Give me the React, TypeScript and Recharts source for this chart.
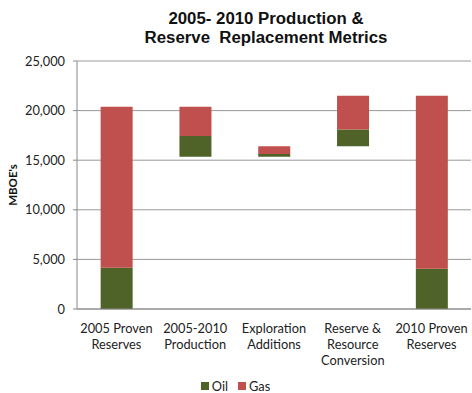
import { BarChart, Bar, XAxis, YAxis, CartesianGrid, Legend } from 'recharts';

const categories = [
  '2005 Proven\nReserves',
  '2005-2010\nProduction',
  'Exploration\nAdditions',
  'Reserve &\nResource\nConversion',
  '2010 Proven\nReserves',
];
// invisible waterfall offset, then the visible oil and gas pieces (MBOE)
const baseValues = [0, 15350, 15350, 16400, 0];
const oilValues = [4150, 2100, 270, 1700, 4050];
const gasValues = [16250, 2950, 780, 3400, 17450];
const yTicks = [0, 5000, 10000, 15000, 20000, 25000];

const OIL = '#4F6228';
const GAS = '#C0504D';
const FONT = 'Lato, "Open Sans", sans-serif';

const data = categories.map((name, i) => ({
  name,
  base: baseValues[i],
  oil: oilValues[i],
  gas: gasValues[i],
}));

const CategoryTick = ({ x, y, payload }: any) => {
  const lines = String(payload.value).split('\n');
  return (
    <text x={x} y={y} textAnchor="middle" fontFamily={FONT} fontSize={12.8} fill="#222">
      {lines.map((l, i) => (
        <tspan key={i} x={x} dy={16}>
          {l}
        </tspan>
      ))}
    </text>
  );
};

const LegendBox = () => (
  <div
    style={{
      display: 'flex',
      justifyContent: 'center',
      fontFamily: FONT,
      fontSize: 12.8,
      lineHeight: '12px',
      color: '#222',
      paddingTop: 7,
    }}
  >
    <span style={{ display: 'flex', alignItems: 'center', marginRight: 10 }}>
      <span style={{ width: 8, height: 8, background: OIL, marginRight: 3, display: 'inline-block' }} />
      Oil
    </span>
    <span style={{ display: 'flex', alignItems: 'center' }}>
      <span style={{ width: 8, height: 8, background: GAS, marginRight: 3, display: 'inline-block' }} />
      Gas
    </span>
  </div>
);

export default function App() {
  return (
    <div style={{ position: 'absolute', left: 0, top: 0, width: 472, height: 393, background: '#fff' }}>
      <div
        style={{
          position: 'absolute',
          left: 116,
          top: 9,
          width: 300,
          textAlign: 'center',
          fontFamily: '"Liberation Sans", Arial, sans-serif',
          fontWeight: 'bold',
          fontSize: 16,
          lineHeight: '19px',
          color: '#111',
          transform: 'scaleX(1.05)',
        }}
      >
        2005- 2010 Production &amp;
        <br />
        Reserve&nbsp; Replacement Metrics
      </div>
      <BarChart
        width={472}
        height={393}
        data={data}
        margin={{ top: 61, right: 1, left: 0, bottom: 0 }}
        barCategoryGap="30%"
      >
        <CartesianGrid vertical={false} stroke="#999" />
        <XAxis
          xAxisId="edges"
          type="number"
          domain={[0, 5]}
          ticks={[0, 1, 2, 3, 4, 5]}
          tick={false}
          axisLine={false}
          tickLine={{ stroke: '#888' }}
          tickSize={5}
          height={0}
        />
        <XAxis
          dataKey="name"
          interval={0}
          tick={<CategoryTick />}
          tickLine={false}
          axisLine={{ stroke: '#888' }}
          height={64}
        />
        <YAxis
          width={77}
          domain={[0, 25000]}
          ticks={yTicks}
          tickFormatter={(v: number) => v.toLocaleString('en-US')}
          tick={{ fontFamily: FONT, fontSize: 12.8, fill: '#222' }}
          tickLine={{ stroke: '#888' }}
          tickSize={4}
          tickMargin={8}
          axisLine={{ stroke: '#888' }}
          label={{
            value: "MBOE's",
            angle: -90,
            position: 'insideLeft',
            offset: 13,
            style: { fontFamily: FONT, fontSize: 11.5, fontWeight: 'bold', fill: '#111', textAnchor: 'middle' },
          }}
        />
        <Legend verticalAlign="bottom" height={20} content={<LegendBox />} />
        <Bar dataKey="base" stackId="w" fill="transparent" legendType="none" isAnimationActive={false} />
        <Bar dataKey="oil" name="Oil" stackId="w" fill={OIL} isAnimationActive={false} />
        <Bar dataKey="gas" name="Gas" stackId="w" fill={GAS} isAnimationActive={false} />
      </BarChart>
    </div>
  );
}
